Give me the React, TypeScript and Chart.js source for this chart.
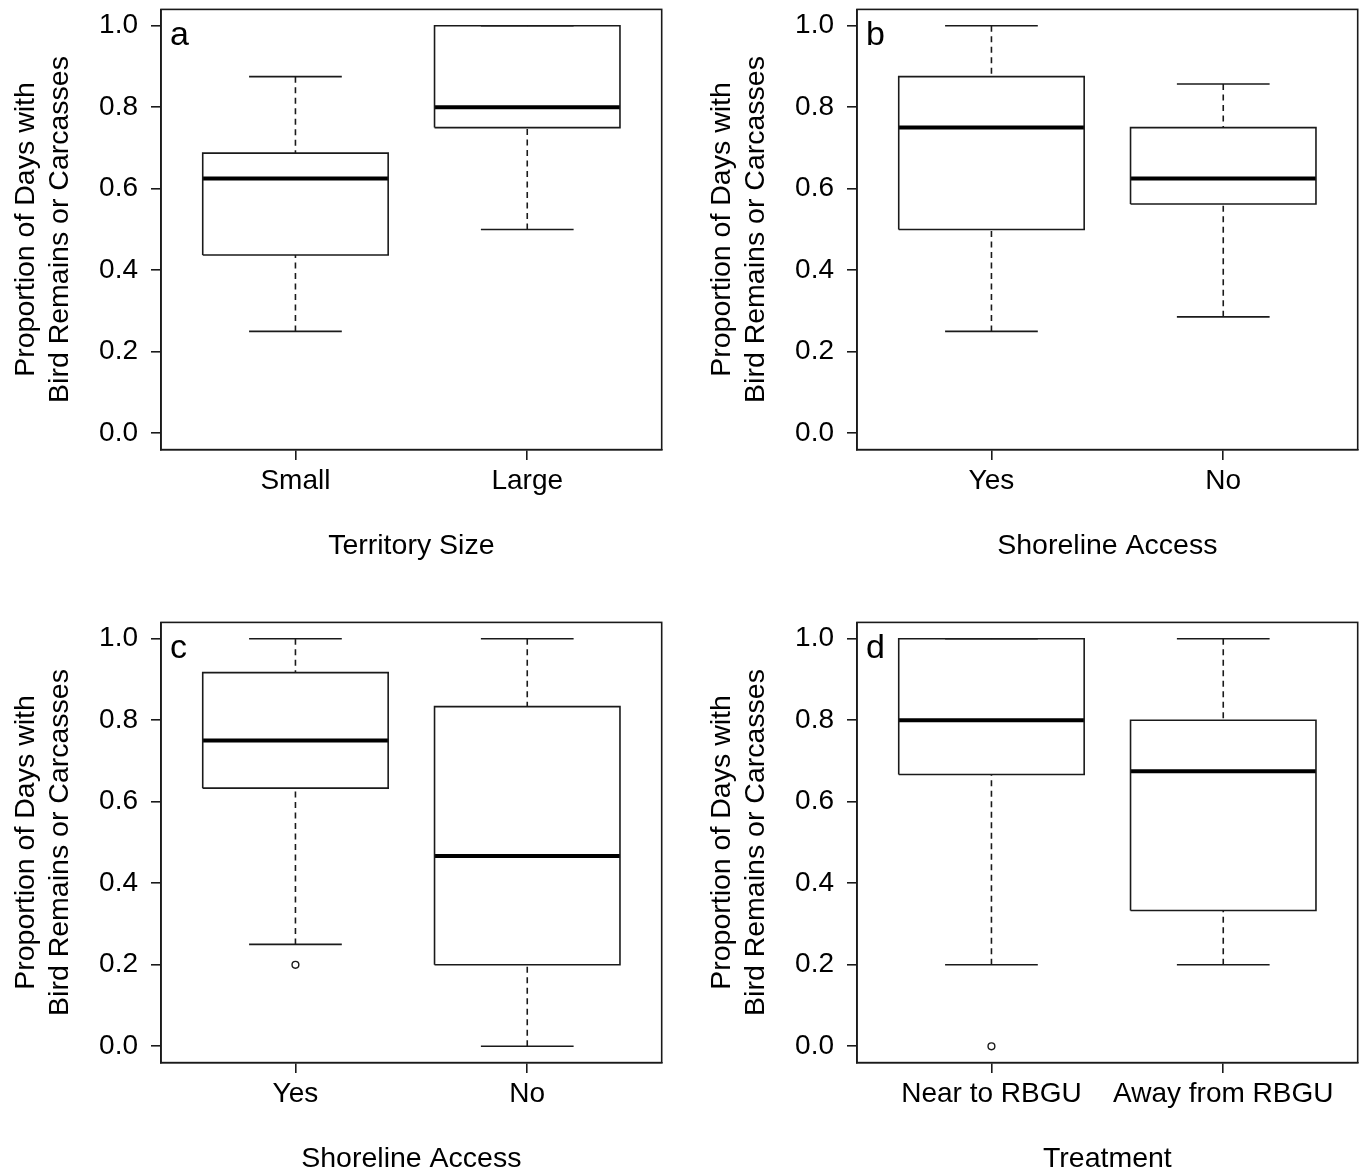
import React, { useEffect, useRef } from 'react';
import { Chart, registerables } from 'chart.js';

Chart.register(...registerables);

// ---- shared text ----
const yTitleLines = ['Proportion of Days with', 'Bird Remains or Carcasses'];
const yTickValues = [0, 0.2, 0.4, 0.6, 0.8, 1.0];

// ---- panel a ----
const aLetter = 'a';
const aXTitle = 'Territory Size';
const aCategories = ['Small', 'Large'];
const aLower = [0.25, 0.5];
const aQ1 = [0.4375, 0.75];
const aMedian = [0.625, 0.8];
const aQ3 = [0.6875, 1.0];
const aUpper = [0.875, 1.0];
const aOutliers: number[][] = [[], []];

// ---- panel b ----
const bLetter = 'b';
const bXTitle = 'Shoreline Access';
const bCategories = ['Yes', 'No'];
const bLower = [0.25, 0.2857];
const bQ1 = [0.5, 0.5625];
const bMedian = [0.75, 0.625];
const bQ3 = [0.875, 0.75];
const bUpper = [1.0, 0.8571];
const bOutliers: number[][] = [[], []];

// ---- panel c ----
const cLetter = 'c';
const cXTitle = 'Shoreline Access';
const cCategories = ['Yes', 'No'];
const cLower = [0.25, 0.0];
const cQ1 = [0.6333, 0.2];
const cMedian = [0.75, 0.4667];
const cQ3 = [0.9167, 0.8333];
const cUpper = [1.0, 1.0];
const cOutliers: number[][] = [[0.2], []];

// ---- panel d ----
const dLetter = 'd';
const dXTitle = 'Treatment';
const dCategories = ['Near to RBGU', 'Away from RBGU'];
const dLower = [0.2, 0.2];
const dQ1 = [0.6667, 0.3333];
const dMedian = [0.8, 0.675];
const dQ3 = [1.0, 0.8];
const dUpper = [1.0, 1.0];
const dOutliers: number[][] = [[0.0], []];

const FONT = '"Liberation Sans", Arial, Helvetica, sans-serif';
const LINE = '#1a1a1a';
const BOX_HALF = 0.4;
const CAP_HALF = 0.2;

const CANVAS_W = 681;
const CANVAS_H = 585;
const AREA_LEFT = 161;
const AREA_RIGHT = 661.7;
const AREA_TOP = 9.4;
const AREA_BOTTOM = 449.6;

type PanelProps = {
  letter: string;
  xTitle: string;
  categories: string[];
  lower: number[];
  q1: number[];
  median: number[];
  q3: number[];
  upper: number[];
  outliers: number[][];
  left: number;
  top: number;
};

function lineDs(data: { x: number; y: number }[], extra: any = {}) {
  return {
    data,
    showLine: true,
    pointRadius: 0,
    borderColor: LINE,
    borderWidth: 1.6,
    fill: false,
    ...extra,
  };
}

function buildDatasets(p: PanelProps) {
  const ds: any[] = [];
  p.categories.forEach((_, i) => {
    const x = i + 1;
    // whiskers (from whisker end towards box)
    ds.push(lineDs([{ x, y: p.upper[i] }, { x, y: p.q3[i] }], { borderDash: [6, 4.5] }));
    ds.push(lineDs([{ x, y: p.lower[i] }, { x, y: p.q1[i] }], { borderDash: [6, 4.5] }));
    // staples
    ds.push(lineDs([{ x: x - CAP_HALF, y: p.upper[i] }, { x: x + CAP_HALF, y: p.upper[i] }]));
    ds.push(lineDs([{ x: x - CAP_HALF, y: p.lower[i] }, { x: x + CAP_HALF, y: p.lower[i] }]));
    // box
    ds.push(
      lineDs([
        { x: x - BOX_HALF, y: p.q1[i] },
        { x: x + BOX_HALF, y: p.q1[i] },
        { x: x + BOX_HALF, y: p.q3[i] },
        { x: x - BOX_HALF, y: p.q3[i] },
        { x: x - BOX_HALF, y: p.q1[i] },
      ])
    );
    // median
    ds.push(
      lineDs([{ x: x - BOX_HALF, y: p.median[i] }, { x: x + BOX_HALF, y: p.median[i] }], {
        borderWidth: 4,
        borderColor: '#000',
      })
    );
    // outliers
    if (p.outliers[i].length) {
      ds.push({
        data: p.outliers[i].map((y) => ({ x, y })),
        showLine: false,
        pointRadius: 3.4,
        pointBorderWidth: 1.4,
        pointBackgroundColor: '#fff',
        pointBorderColor: LINE,
      });
    }
  });
  return ds;
}

function Panel(p: PanelProps) {
  const ref = useRef<HTMLCanvasElement | null>(null);
  useEffect(() => {
    if (!ref.current) return;
    const framePlugin = {
      id: 'frameAndLetter',
      afterDatasetsDraw(chart: any) {
        const { ctx, chartArea: a } = chart;
        ctx.save();
        ctx.strokeStyle = LINE;
        ctx.lineWidth = 1.6;
        ctx.strokeRect(a.left, a.top, a.right - a.left, a.bottom - a.top);
        ctx.font = `34px ${FONT}`;
        ctx.fillStyle = '#000';
        ctx.textBaseline = 'alphabetic';
        ctx.textAlign = 'left';
        ctx.fillText(p.letter, a.left + 9, a.top + 35.5);
        ctx.restore();
      },
    };
    const chart = new Chart(ref.current, {
      type: 'scatter',
      data: { datasets: buildDatasets(p) },
      options: {
        animation: false,
        responsive: false,
        events: [],
        layout: { padding: { top: AREA_TOP, left: 0, right: CANVAS_W - AREA_RIGHT, bottom: 0 } },
        plugins: { legend: { display: false }, tooltip: { enabled: false } },
        scales: {
          x: {
            type: 'linear',
            min: 0.42,
            max: 2.58,
            bounds: 'data',
            afterBuildTicks: (s: any) => {
              s.ticks = p.categories.map((_, i) => ({ value: i + 1 }));
            },
            afterFit: (s: any) => {
              s.height = CANVAS_H - AREA_BOTTOM;
              s.paddingLeft = 0;
              s.paddingRight = 0;
            },
            ticks: {
              autoSkip: false,
              maxRotation: 0,
              minRotation: 0,
              padding: 4,
              color: '#000',
              font: { family: FONT, size: 28 },
              callback: (v: any) => p.categories[Math.round(Number(v)) - 1] ?? '',
            },
            grid: { drawOnChartArea: false, drawTicks: true, tickLength: 10.5, color: LINE, lineWidth: 1.6 },
            border: { display: true, color: LINE, width: 1.6 },
            title: {
              display: true,
              text: p.xTitle,
              color: '#000',
              font: { family: FONT, size: 28.5 },
              padding: { top: 0, bottom: 22 },
            },
          },
          y: {
            type: 'linear',
            min: -0.04,
            max: 1.04,
            bounds: 'data',
            afterBuildTicks: (s: any) => {
              s.ticks = yTickValues.map((v) => ({ value: v }));
            },
            afterFit: (s: any) => {
              s.width = AREA_LEFT;
              s.paddingTop = 0;
              s.paddingBottom = 0;
            },
            ticks: {
              padding: 13,
              color: '#000',
              font: { family: FONT, size: 28 },
              callback: (v: any) => Number(v).toFixed(1),
            },
            grid: { drawOnChartArea: false, drawTicks: true, tickLength: 10, color: LINE, lineWidth: 1.6 },
            border: { display: true, color: LINE, width: 1.6 },
            title: {
              display: true,
              text: yTitleLines,
              color: '#000',
              font: { family: FONT, size: 28.5, lineHeight: 1.2 },
              padding: { top: 9, bottom: 0 },
            },
          },
        },
      } as any,
      plugins: [framePlugin],
    });
    return () => chart.destroy();
  }, []);
  return (
    <canvas
      ref={ref}
      width={CANVAS_W}
      height={CANVAS_H}
      style={{ position: 'absolute', left: p.left, top: p.top, width: CANVAS_W, height: CANVAS_H }}
    />
  );
}

export default function App() {
  return (
    <div
      style={{
        position: 'absolute',
        left: 0,
        top: 0,
        width: 1363,
        height: 1170,
        overflow: 'hidden',
        background: '#fff',
      }}
    >
      <Panel letter={aLetter} xTitle={aXTitle} categories={aCategories} lower={aLower} q1={aQ1} median={aMedian} q3={aQ3} upper={aUpper} outliers={aOutliers} left={0} top={0} />
      <Panel letter={bLetter} xTitle={bXTitle} categories={bCategories} lower={bLower} q1={bQ1} median={bMedian} q3={bQ3} upper={bUpper} outliers={bOutliers} left={696} top={0} />
      <Panel letter={cLetter} xTitle={cXTitle} categories={cCategories} lower={cLower} q1={cQ1} median={cMedian} q3={cQ3} upper={cUpper} outliers={cOutliers} left={0} top={613} />
      <Panel letter={dLetter} xTitle={dXTitle} categories={dCategories} lower={dLower} q1={dQ1} median={dMedian} q3={dQ3} upper={dUpper} outliers={dOutliers} left={696} top={613} />
    </div>
  );
}
